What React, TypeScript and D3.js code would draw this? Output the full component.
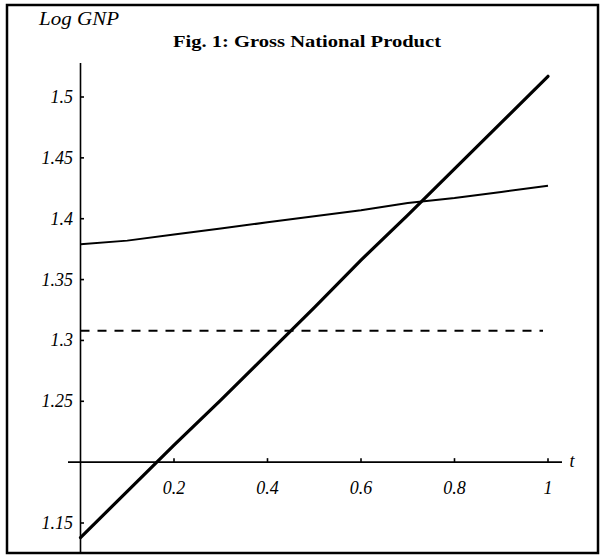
import React from 'react';
import * as d3 from 'd3';

// readings
const tGrid = [0, 0.1, 0.2, 0.3, 0.4, 0.5, 0.6, 0.7, 0.8, 0.9, 1];
const steepGNP = [1.138, 1.176, 1.214, 1.251, 1.289, 1.327, 1.366, 1.403, 1.441, 1.479, 1.517];
const flatGNP = [1.379, 1.382, 1.387, 1.392, 1.397, 1.402, 1.407, 1.413, 1.417, 1.422, 1.427];
const constGNP = 1.308;
const xTicks = [0.2, 0.4, 0.6, 0.8, 1];
const yTicks = [1.15, 1.25, 1.3, 1.35, 1.4, 1.45, 1.5];

const W = 603;
const H = 556;
const FONT = 'Times New Roman, Liberation Serif, Times, serif';

export default function App() {
  const x = d3.scaleLinear().domain([0, 1]).range([80.5, 548]);
  const y = d3.scaleLinear().domain([1.15, 1.5]).range([523, 97]);
  const yTop = 63;
  const yBottom = 553;
  const axisY = y(1.2);

  const line = d3.line<number>()
    .x((_, i) => x(tGrid[i]))
    .y(d => y(d));

  const fmt = (v: number) => (v === 1 ? '1' : String(v));

  return (
    <svg width={W} height={H} style={{ position: 'absolute', left: 0, top: 0, background: '#fff' }}>
      <rect x={7} y={5} width={591} height={548} fill="none" stroke="#000" strokeWidth={2.5} />

      <text x={39} y={25} style={{ fontFamily: FONT }} fontStyle="italic" fontSize={18}
        textLength={80} lengthAdjust="spacingAndGlyphs">Log GNP</text>
      <text x={307} y={47} style={{ fontFamily: FONT }} fontWeight="bold" fontSize={17} textAnchor="middle"
        textLength={268} lengthAdjust="spacingAndGlyphs">Fig. 1: Gross National Product</text>

      {/* y axis */}
      <line x1={x(0)} x2={x(0)} y1={yTop} y2={yBottom} stroke="#000" strokeWidth={1.6} />
      {yTicks.map(v => (
        <g key={v}>
          <line x1={x(0)} x2={x(0) + 3.5} y1={y(v)} y2={y(v)} stroke="#000" strokeWidth={1.6} />
          <text x={73} y={y(v) + 6} style={{ fontFamily: FONT }} fontStyle="italic" fontSize={18} textAnchor="end">
            {fmt(v)}
          </text>
        </g>
      ))}

      {/* x axis */}
      <line x1={68} x2={562} y1={axisY} y2={axisY} stroke="#000" strokeWidth={1.6} />
      {xTicks.map(v => (
        <g key={v}>
          <line x1={x(v)} x2={x(v)} y1={axisY} y2={axisY - 4} stroke="#000" strokeWidth={1.6} />
          <text x={x(v)} y={axisY + 32} style={{ fontFamily: FONT }} fontStyle="italic" fontSize={18} textAnchor="middle">
            {fmt(v)}
          </text>
        </g>
      ))}
      <text x={572} y={axisY + 5} style={{ fontFamily: FONT }} fontStyle="italic" fontSize={18} textAnchor="middle">t</text>

      {/* series */}
      <line x1={x(0)} x2={x(1) - 5} y1={y(constGNP)} y2={y(constGNP)} stroke="#000" strokeWidth={2}
        strokeDasharray="9,8" />
      <path d={line(flatGNP) ?? ''} fill="none" stroke="#000" strokeWidth={2} />
      <path d={line(steepGNP) ?? ''} fill="none" stroke="#000" strokeWidth={3.2} strokeLinecap="round" />
    </svg>
  );
}
